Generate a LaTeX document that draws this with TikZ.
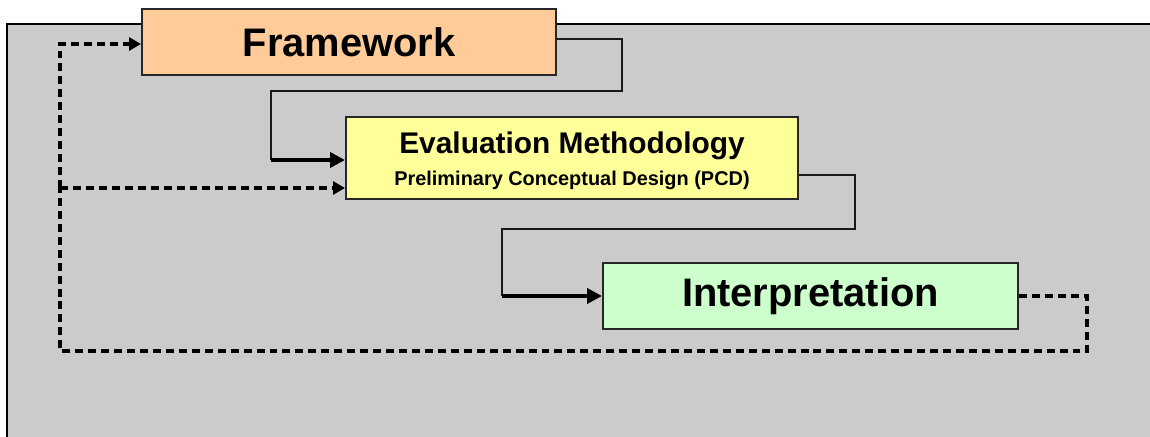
\documentclass[tikz,border=0pt]{standalone}
\usepackage{fontspec}
\setmainfont{Liberation Sans}
\usetikzlibrary{arrows.meta}
\definecolor{bggray}{HTML}{CBCBCB}
\definecolor{fwfill}{HTML}{FFCC99}
\definecolor{evfill}{HTML}{FFFF99}
\definecolor{ipfill}{HTML}{CCFFCC}
\tikzset{
  box/.style={draw=black!85, line width=2pt, inner sep=0pt, font=\bfseries},
  thinconn/.style={draw=black!90, line width=2pt},
  thickconn/.style={draw=black, line width=4pt, -{Triangle[length=15pt,width=15pt]}},
  dashconn/.style={draw=black, line width=3.2pt, dash pattern=on 8pt off 5pt},
  dasharrow/.style={dashconn, -{Triangle[length=12pt,width=13pt]}}
}
\begin{document}
\begin{tikzpicture}[x=1bp,y=-1bp]
\useasboundingbox (0,0) rectangle (1150,437);
\fill[bggray] (7,24) rectangle (1150,437);
\draw[black, line width=2.4pt] (7,437) -- (7,24) -- (1150,24);

\node[box, fill=fwfill, minimum width=414bp, minimum height=66bp] (fw) at (349,42)
  {\fontsize{40}{44}\selectfont Framework};
\node[box, fill=evfill, minimum width=452bp, minimum height=82bp, align=center] (ev) at (572,158)
  {\fontsize{30}{32}\selectfont\rule{0pt}{28pt}Evaluation Methodology\\[10pt]\fontsize{20}{24}\selectfont Preliminary Conceptual Design (PCD)};
\node[box, fill=ipfill, minimum width=415bp, minimum height=66bp] (ip) at (810.5,296)
  {\fontsize{40}{44}\selectfont Interpretation};

% Framework -> Evaluation
\coordinate (a1) at (271,160);
\draw[thinconn] ([yshift=3bp]fw.east) -| (622,91) -| (a1);
\draw[thickconn] (a1) -- (ev.west |- a1);

% Evaluation -> Interpretation
\coordinate (a2) at (502,296);
\draw[thinconn] ([yshift=-17bp]ev.east) -| (855,229) -| (a2);
\draw[thickconn] (a2) -- (ip.west);

% Feedback
\coordinate (fb) at (60,188);
\draw[dashconn] (ip.east) -| (1087,351) -| (fb);
\draw[dasharrow] (fb) |- ([yshift=-2bp]fw.west);
\draw[dasharrow] (fb) -- (ev.west |- fb);
\end{tikzpicture}
\end{document}
